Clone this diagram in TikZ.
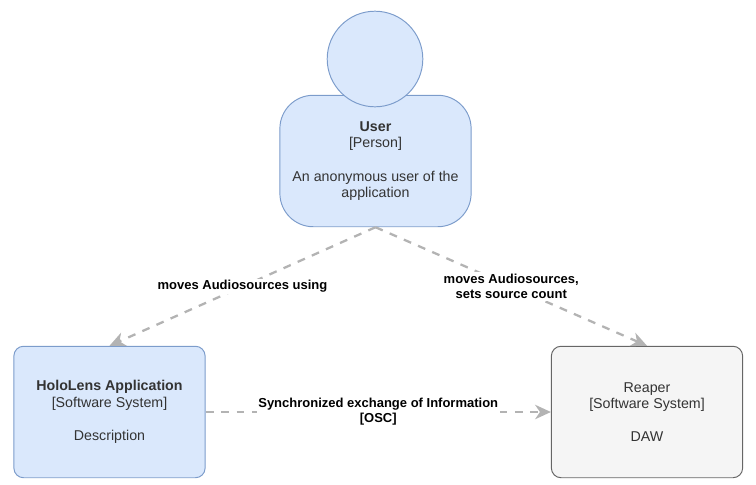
\documentclass[tikz,border=0pt]{standalone}
\usepackage{fontspec}
\setmainfont{Liberation Sans}
\usetikzlibrary{arrows.meta}
\definecolor{bluefill}{HTML}{DAE8FC}
\definecolor{blueline}{HTML}{7C9CCB}
\definecolor{grayfill}{HTML}{F5F5F5}
\definecolor{grayline}{HTML}{666666}
\definecolor{flowline}{HTML}{B3B3B3}
\definecolor{bodytext}{HTML}{333333}
\tikzset{
	mybox/.style={draw, rounded corners=5.5pt, line width=0.55pt, minimum width=192*0.5669pt, minimum height=132*0.5669pt, align=center, text=bodytext, font=\fontsize{8.1}{9.45}\selectfont, inner sep=0pt},
	bluebox/.style={mybox, draw=blueline, fill=bluefill},
	graybox/.style={mybox, draw=grayline, fill=grayfill},
	myflow/.style={draw=flowline, line width=1.3pt, dash pattern=on 4.5pt off 4.3pt, -{Stealth[length=9pt, width=8.2pt, inset=2.8pt]}},
	mylabel/.style={midway, fill=white, inner sep=1pt, align=center, font=\fontsize{7.4}{8.6}\selectfont\bfseries\color{black}}
}

\begin{document}
\begin{tikzpicture}[x=0.02cm, y=-0.02cm]
	\useasboundingbox (0, 0) rectangle (756, 484);
	
	\node[bluebox, rounded corners=19pt] (userbody) at (375.5, 161) {\textbf{User}\\{[Person]}\\[9.45pt]An anonymous user of the\\application};
	\node[circle, draw=blueline, fill=bluefill, line width=0.55pt, minimum size=96*0.5669pt, inner sep=0pt] (userhead) at (375, 59) {};
	\node[bluebox] (holo) at (109.5, 412) {\textbf{HoloLens Application}\\{[Software System]}\\[9.45pt]Description};
	\node[graybox] (reaper) at (647, 412) {Reaper\\{[Software System]}\\[9.45pt]DAW};
	
	\draw[myflow] (userbody.south) -- (holo.north) node[mylabel]{moves Audiosources using};
	\draw[myflow] (userbody.south) -- (reaper.north) node[mylabel]{moves Audiosources,\\sets source count};
	\draw[myflow] (holo.east) -- (reaper.west) node[mylabel]{Synchronized exchange of Information\\{[OSC]}};
\end{tikzpicture}
\end{document}
